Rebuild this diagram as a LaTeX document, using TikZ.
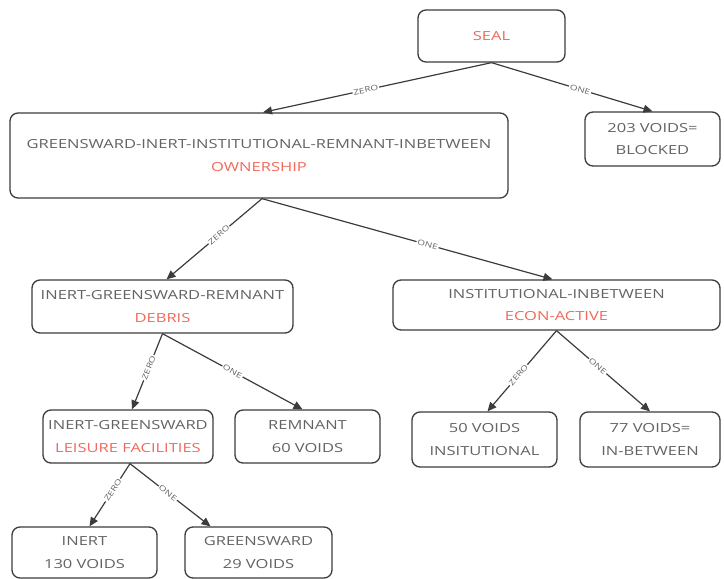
\documentclass[tikz,border=0pt]{standalone}
\usepackage{fontspec}
\setmainfont{Open Sans}[FakeStretch=1.32]
\usetikzlibrary{arrows.meta}
\definecolor{txt}{HTML}{636363}
\definecolor{redt}{HTML}{F0695A}
\definecolor{edge}{HTML}{3C3C3C}
\tikzset{
  box/.style={draw=edge, line width=1.3pt, rounded corners=8pt, fill=white, text=txt, align=center, font=\fontsize{12.5}{22.5}\selectfont, inner sep=0pt},
  conn/.style={draw=edge, line width=1.2pt, -{Triangle[length=9pt,width=8pt]}},
  lab/.style={sloped, fill=white, text=txt, font=\fontsize{7.5}{8}\selectfont, inner sep=1pt}
}
\begin{document}
\begin{tikzpicture}[x=1pt,y=-1pt]
\useasboundingbox (0,0) rectangle (724,579);
\node[box, minimum width=147pt, minimum height=52pt] (seal) at (491.5,36) {\textcolor{redt}{SEAL}};
\node[box, minimum width=135pt, minimum height=54pt] (blk) at (652.5,139) {203 VOIDS=\\BLOCKED};
\node[box, minimum width=498pt, minimum height=85pt] (own) at (259,155.5) {GREENSWARD-INERT-INSTITUTIONAL-REMNANT-INBETWEEN\\\textcolor{redt}{OWNERSHIP}};
\node[box, minimum width=261pt, minimum height=53pt] (deb) at (162.5,306.5) {INERT-GREENSWARD-REMNANT\\\textcolor{redt}{DEBRIS}};
\node[box, minimum width=327pt, minimum height=50pt] (eco) at (556.5,305) {INSTITUTIONAL-INBETWEEN\\\textcolor{redt}{ECON-ACTIVE}};
\node[box, minimum width=170pt, minimum height=53pt] (lei) at (128,436.5) {INERT-GREENSWARD\\\textcolor{redt}{LEISURE FACILITIES}};
\node[box, minimum width=145pt, minimum height=53pt] (rem) at (307.5,436.5) {REMNANT\\60 VOIDS};
\node[box, minimum width=145pt, minimum height=55pt] (ins) at (484.5,439.5) {50 VOIDS\\INSITUTIONAL};
\node[box, minimum width=140pt, minimum height=55pt] (inb) at (650,439.5) {77 VOIDS=\\IN-BETWEEN};
\node[box, minimum width=145pt, minimum height=51pt] (ine) at (84.5,552.5) {INERT\\130 VOIDS};
\node[box, minimum width=147pt, minimum height=51pt] (grs) at (258.5,552.5) {GREENSWARD\\29 VOIDS};

\draw[conn] (seal.south) -- node[lab, pos=0.55]{ZERO} ([xshift=4pt]own.north);
\draw[conn] (seal.south) -- node[lab, pos=0.55]{ONE} (blk.north);
\draw[conn] ([xshift=3pt]own.south) -- node[lab, pos=0.45]{ZERO} ([xshift=4pt]deb.north);
\draw[conn] ([xshift=3pt]own.south) -- node[lab, pos=0.57]{ONE} ([xshift=-4pt]eco.north);
\draw[conn] (deb.south) -- node[lab, pos=0.45]{ZERO} ([xshift=4pt]lei.north);
\draw[conn] (deb.south) -- node[lab, pos=0.5]{ONE} ([xshift=-5pt]rem.north);
\draw[conn] (eco.south) -- node[lab, pos=0.55]{ZERO} ([xshift=3pt]ins.north);
\draw[conn] (eco.south) -- node[lab, pos=0.44]{ONE} (inb.north);
\draw[conn] ([xshift=2pt]lei.south) -- node[lab, pos=0.42]{ZERO} ([xshift=5pt]ine.north);
\draw[conn] ([xshift=2pt]lei.south) -- node[lab, pos=0.47]{ONE} ([xshift=-48pt]grs.north);
\end{tikzpicture}
\end{document}
